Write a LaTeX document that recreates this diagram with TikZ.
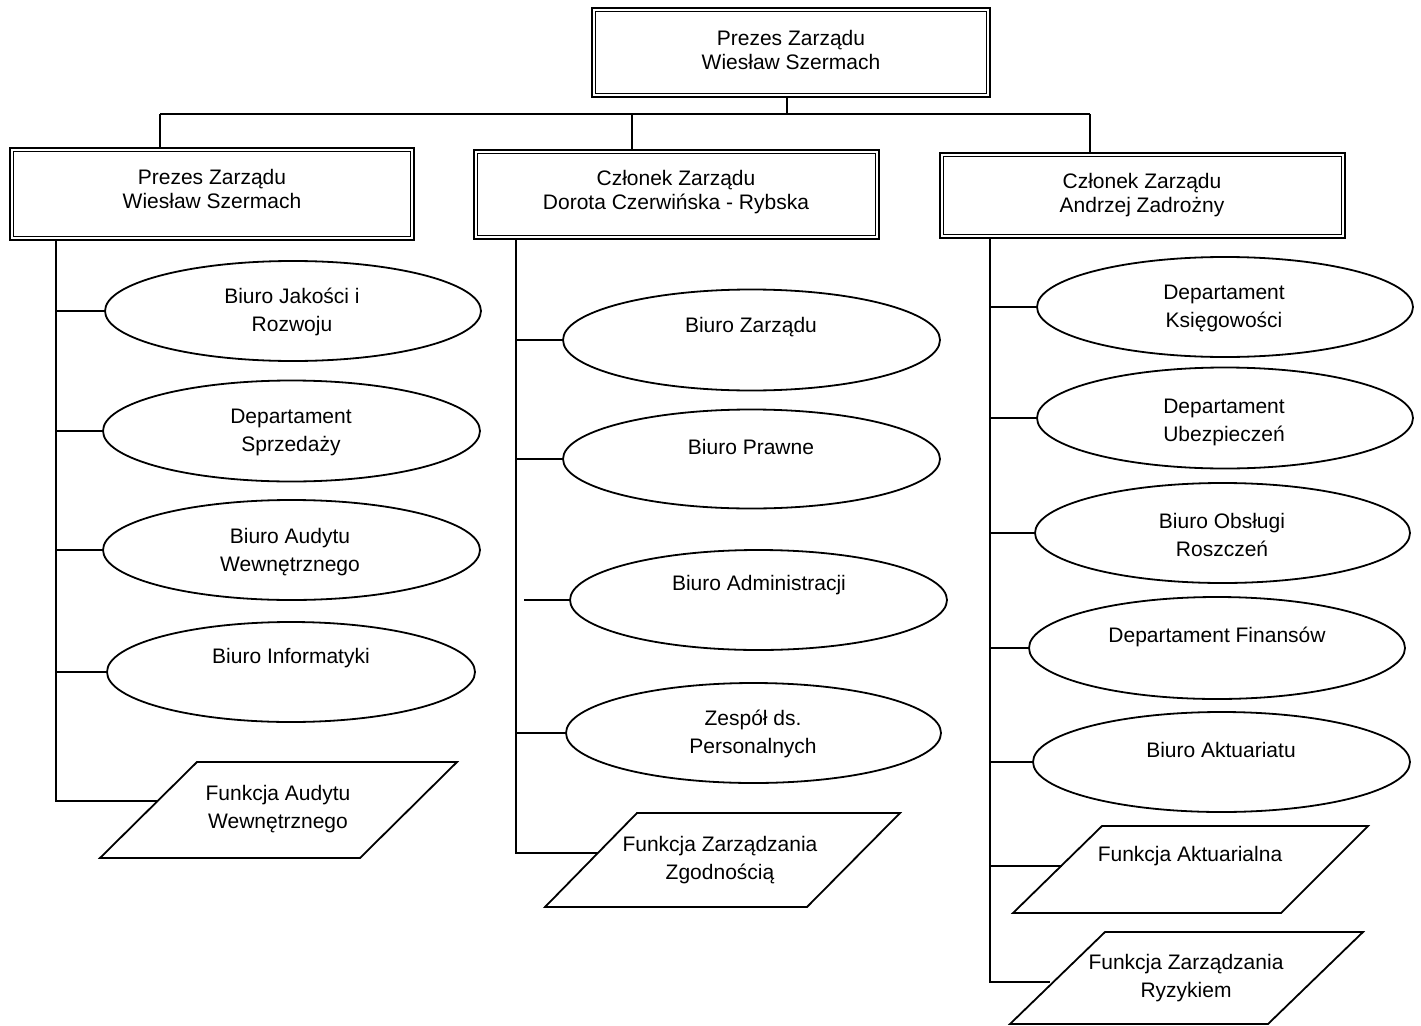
\documentclass[tikz,border=0pt]{standalone}
\usepackage{fontspec}
\setmainfont{Liberation Sans}
\usetikzlibrary{shapes.geometric,calc}
\begin{document}
\begin{tikzpicture}[x=1pt,y=-1pt,
  every node/.style={font=\fontsize{21}{28}\selectfont},
  ln/.style={line width=1.6pt},
  boxo/.style={draw,line width=2.6pt,rectangle,inner sep=0pt},
  ell/.style={draw,ellipse,line width=1.8pt,inner sep=0pt},
  txt/.style={align=center,inner sep=0pt},
  btxt/.style={align=center,inner sep=0pt,font=\fontsize{21}{24.5}\selectfont},
  para/.style={draw,line width=1.8pt,line join=miter}]
\fill[white] (0,0) rectangle (1421,1025);
\useasboundingbox (0,0) rectangle (1421,1025);

% --- top and level-1 boxes
\node[boxo,minimum width=398pt,minimum height=89pt] (top) at (791,52.5) {};
\node[boxo,minimum width=404pt,minimum height=92pt] (b1) at (212,194) {};
\node[boxo,minimum width=405pt,minimum height=89pt] (b2) at (676.5,194.5) {};
\node[boxo,minimum width=405pt,minimum height=85pt] (b3) at (1142.5,195.5) {};
\foreach \b in {top,b1,b2,b3}{
  \draw[line width=1.1pt] ([shift={(5,5)}]\b.north west) rectangle ([shift={(-5,-5)}]\b.south east);
}
\node[btxt] (ttop) at (791,50) {Prezes Zarządu\\Wiesław Szermach};
\node[btxt] (tb1) at (212,189) {Prezes Zarządu\\Wiesław Szermach};
\node[btxt] (tb2) at (676,192) {Członek Zarządu\\Dorota Czerwińska - Rybska};
\node[btxt] (tb3) at (1142,195) {Członek Zarządu\\Andrzej Zadrożny};

% --- top connectors
\coordinate (j0) at (787,114);
\coordinate (jl) at (160,114);
\coordinate (jm) at (632,114);
\coordinate (jr) at (1090,114);
\draw[ln] (j0 |- top.south) -- (j0);
\draw[ln] (jl) -- (jr);
\draw[ln] (jl) -- (jl |- b1.north);
\draw[ln] (jm) -- (jm |- b2.north);
\draw[ln] (jr) -- (jr |- b3.north);

% --- left column
\node[ell,minimum width=376pt,minimum height=100pt] (e1) at (293,311) {};
\node[ell,minimum width=377pt,minimum height=101pt] (e2) at (291.5,431) {};
\node[ell,minimum width=377pt,minimum height=100pt] (e3) at (291.5,550) {};
\node[ell,minimum width=368pt,minimum height=100pt] (e4) at (291,672) {};
\node[txt] (te1) at (292,312) {Biuro Jakości i\\Rozwoju};
\node[txt] (te2) at (291,432) {Departament\\Sprzedaży};
\node[txt] (te3) at (290,552) {Biuro Audytu\\Wewnętrznego};
\node[txt] (te4) at (291,658) {Biuro Informatyki};
\draw[para] (100,858) -- (197,762) -- (457,762) -- (360,858) -- cycle;
\node[txt] (tp1) at (278,809) {Funkcja Audytu\\Wewnętrznego};
\coordinate (p1w) at (157,801);
\coordinate (tl) at (56,240);
\draw[ln] (tl) -- (tl |- p1w) -- (p1w);
\foreach \e in {e1,e2,e3,e4}{ \draw[ln] (tl |- \e.west) -- (\e.west); }

% --- middle column
\node[ell,minimum width=377pt,minimum height=101pt] (m1) at (751.5,340) {};
\node[ell,minimum width=377pt,minimum height=99pt] (m2) at (751.5,459) {};
\node[ell,minimum width=377pt,minimum height=100pt] (m3) at (758.5,600) {};
\node[ell,minimum width=375pt,minimum height=100pt] (m4) at (753.5,733) {};
\node[txt] (tm1) at (751,327) {Biuro Zarządu};
\node[txt] (tm2) at (751,447) {Biuro Prawne};
\node[txt] (tm3) at (759,585) {Biuro Administracji};
\node[txt] (tm4) at (753,734) {Zespół ds.\\Personalnych};
\draw[para] (545,907) -- (637,813) -- (900,813) -- (807,907) -- cycle;
\node[txt] (tp2) at (720,860) {Funkcja Zarządzania\\Zgodnością};
\coordinate (p2w) at (598,853);
\coordinate (tm) at (516,239);
\draw[ln] (tm) -- (tm |- p2w) -- (p2w);
\draw[ln] (tm |- m1.west) -- (m1.west);
\draw[ln] (tm |- m2.west) -- (m2.west);
\coordinate (m3s) at (524,600);
\draw[ln] (m3s) -- (m3.west);
\draw[ln] (tm |- m4.west) -- (m4.west);

% --- right column
\node[ell,minimum width=376pt,minimum height=100pt] (r1) at (1225,307) {};
\node[ell,minimum width=376pt,minimum height=101pt] (r2) at (1225,418) {};
\node[ell,minimum width=375pt,minimum height=100pt] (r3) at (1222.5,533) {};
\node[ell,minimum width=376pt,minimum height=102pt] (r4) at (1217,648) {};
\node[ell,minimum width=377pt,minimum height=100pt] (r5) at (1221.5,762) {};
\node[txt] (tr1) at (1224,308) {Departament\\Księgowości};
\node[txt] (tr2) at (1224,422) {Departament\\Ubezpieczeń};
\node[txt] (tr3) at (1222,535) {Biuro Obsługi\\Roszczeń};
\node[txt] (tr4) at (1217,637) {Departament Finansów};
\node[txt] (tr5) at (1221,750) {Biuro Aktuariatu};
\draw[para] (1013,913) -- (1102,826) -- (1368,826) -- (1281,913) -- cycle;
\node[txt] (tp3) at (1190,856) {Funkcja Aktuarialna};
\draw[para] (1010,1024) -- (1105,932) -- (1363,932) -- (1268,1024) -- cycle;
\node[txt] (tp4) at (1186,978) {Funkcja Zarządzania\\Ryzykiem};
\coordinate (p3w) at (1062,866);
\coordinate (p4w) at (1050,982);
\coordinate (tr) at (990,238);
\draw[ln] (tr) -- (tr |- p4w) -- (p4w);
\draw[ln] (tr |- p3w) -- (p3w);
\foreach \e in {r1,r2,r3,r4,r5}{ \draw[ln] (tr |- \e.west) -- (\e.west); }
\end{tikzpicture}
\end{document}
